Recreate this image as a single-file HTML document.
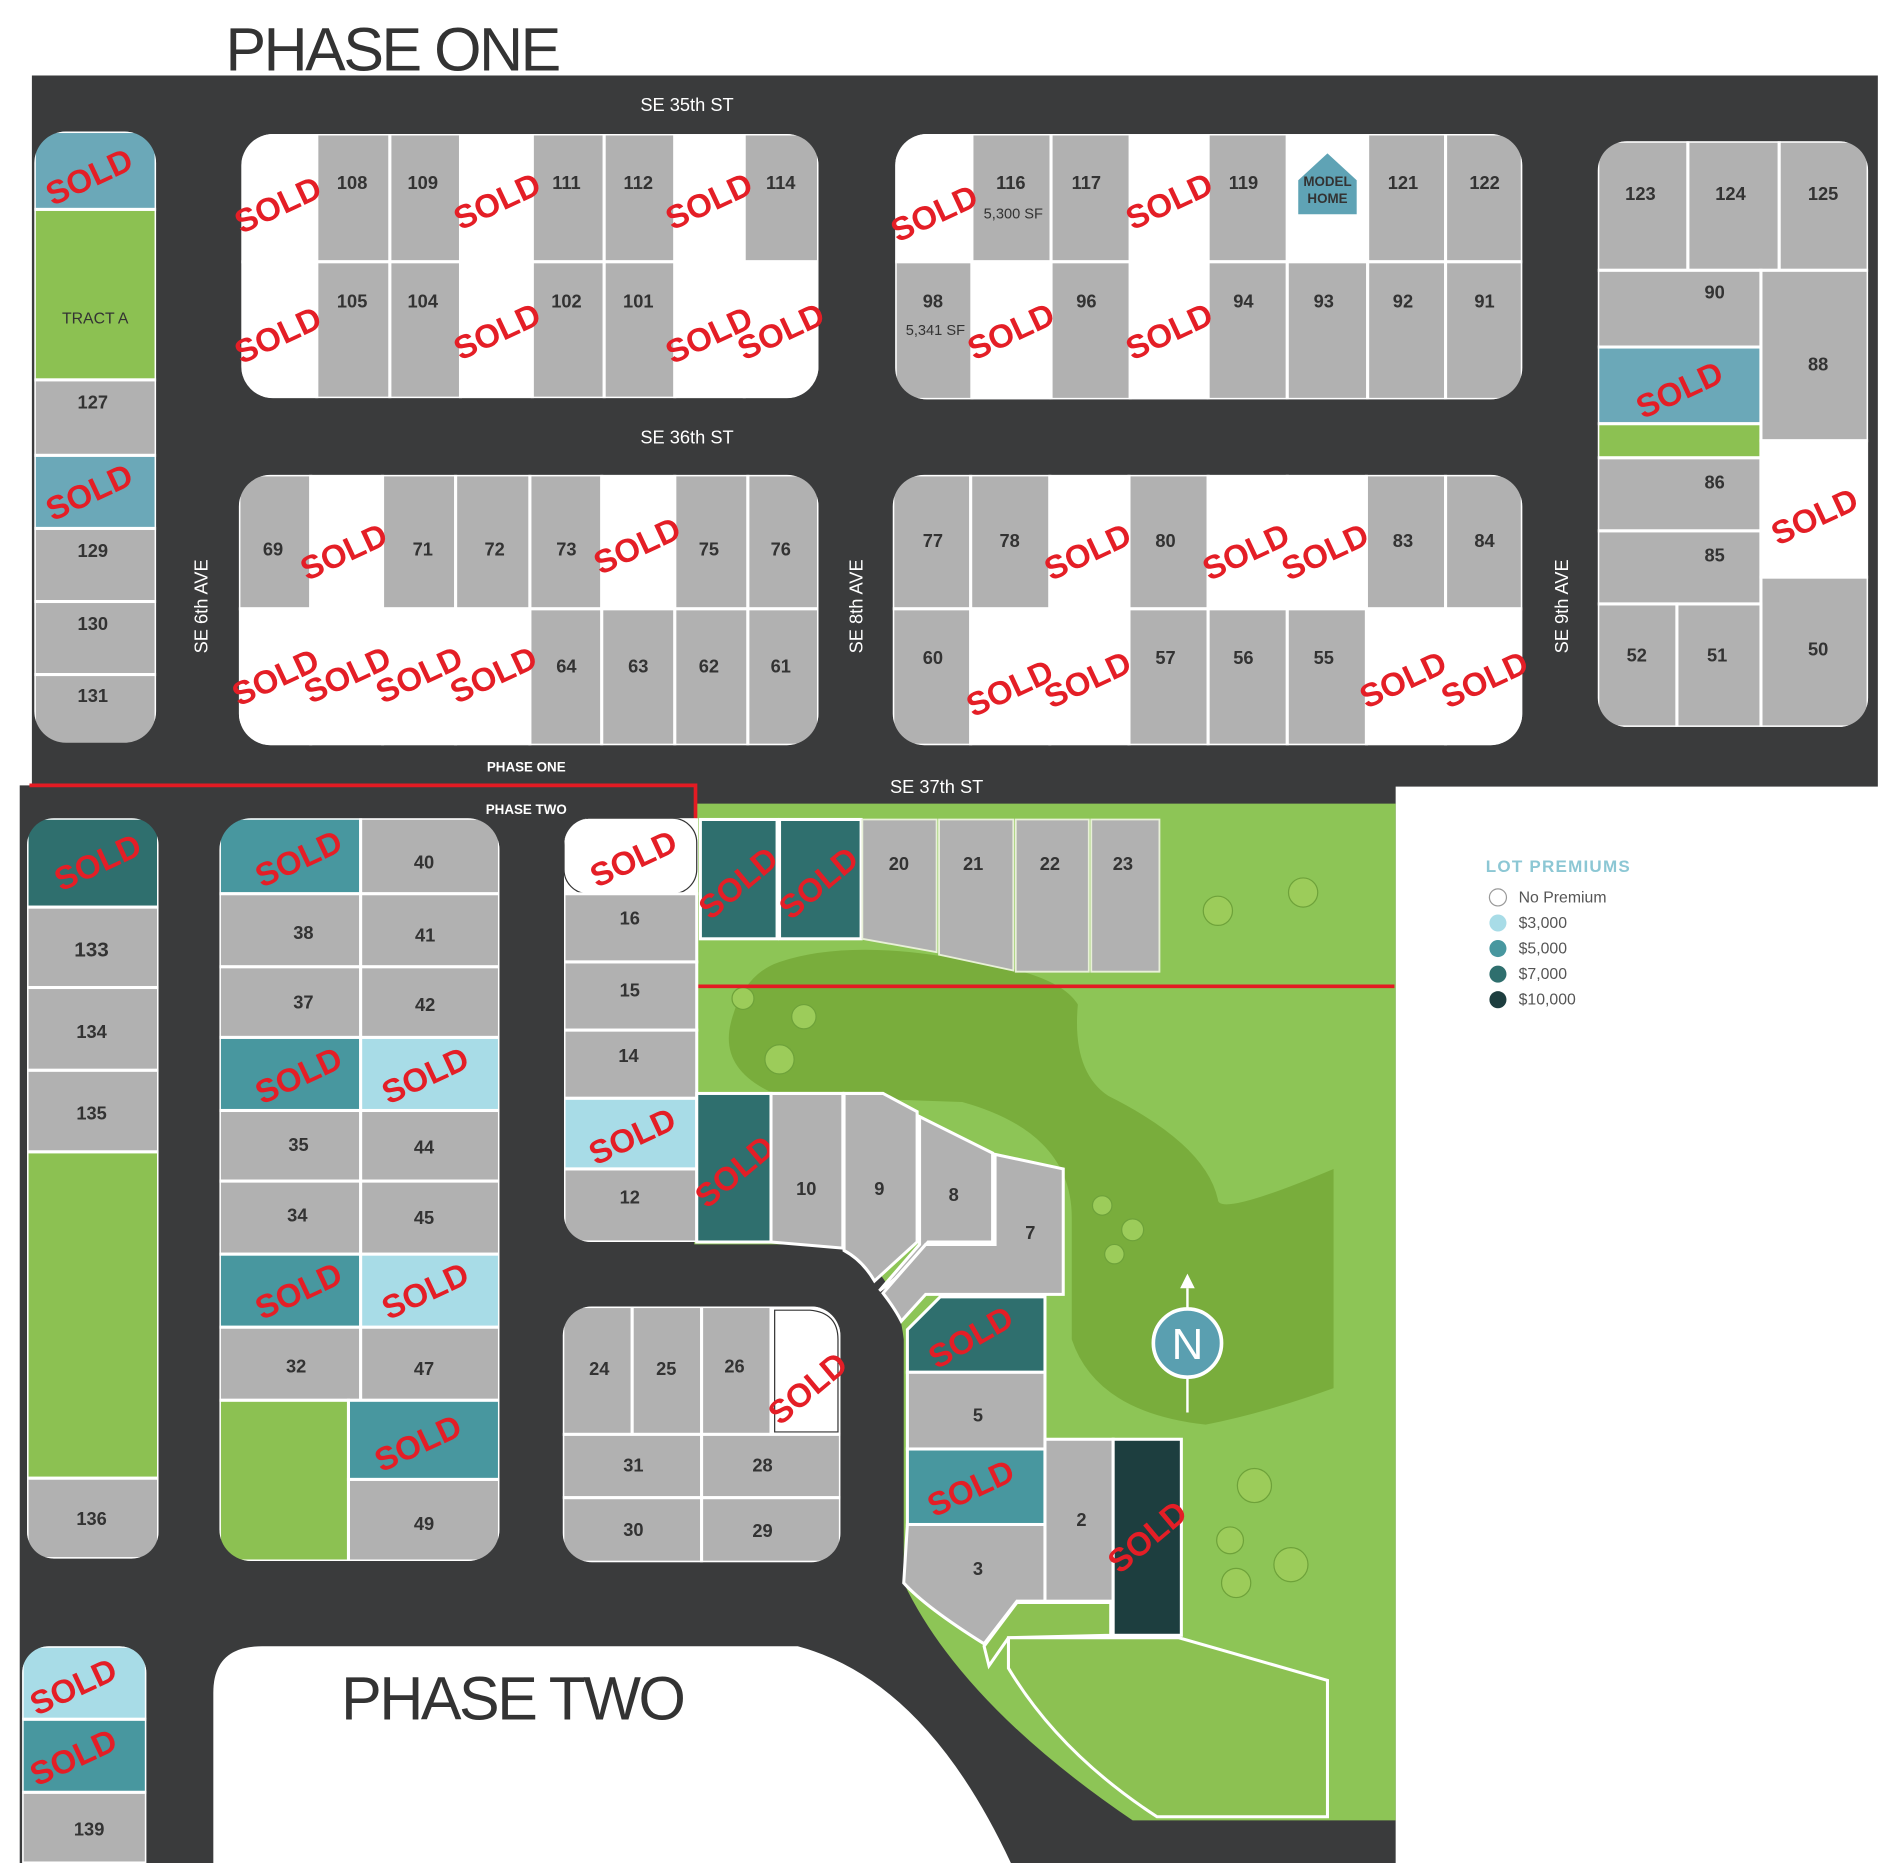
<!DOCTYPE html>
<html><head><meta charset="utf-8">
<style>
html,body{margin:0;padding:0;background:#fff}
svg{display:block}
.g{fill:#b1b1b1;stroke:#fff;stroke-width:2.5}
.w{fill:#fff;stroke:#fff;stroke-width:2.5}
.t3{fill:#a8dce7;stroke:#fff;stroke-width:2.5}
.t5{fill:#48979f;stroke:#fff;stroke-width:2.5}
.t7{fill:#2f6f6e;stroke:#fff;stroke-width:2.5}
.t10{fill:#1d3e3f;stroke:#fff;stroke-width:2.5}
.tb{fill:#6ba8b8;stroke:#fff;stroke-width:2.5}
.gr{fill:#8cc152;stroke:#fff;stroke-width:2.5}
.n{font:700 15px "Liberation Sans",sans-serif;fill:#333;text-anchor:middle;dominant-baseline:central}
.s{font:700 27px "Liberation Sans",sans-serif;fill:#e41e26;text-anchor:middle;dominant-baseline:central}
.st{font:15px "Liberation Sans",sans-serif;fill:#fff;text-anchor:middle;dominant-baseline:central}
.big{font:300 50px "Liberation Sans",sans-serif;fill:#333;letter-spacing:-2px}
.lg{font:13px "Liberation Sans",sans-serif;fill:#555}
</style></head><body>
<svg width="1900" height="1863" viewBox="0 0 1560 1530" xmlns="http://www.w3.org/2000/svg">
<defs>
<clipPath id="cA"><rect x="198" y="110" width="474" height="217" rx="26"/></clipPath>
<clipPath id="cB"><rect x="735" y="110" width="515" height="218" rx="26"/></clipPath>
<clipPath id="cC"><rect x="1312" y="116" width="222" height="481" rx="24"/></clipPath>
<clipPath id="cD"><rect x="196" y="390" width="476" height="222" rx="26"/></clipPath>
<clipPath id="cE"><rect x="733" y="390" width="517" height="222" rx="26"/></clipPath>
<clipPath id="cL"><rect x="28" y="108" width="100" height="502" rx="26"/></clipPath>
<clipPath id="cL2"><rect x="22" y="672" width="108" height="608" rx="22"/></clipPath>
<clipPath id="cF"><rect x="180" y="672" width="230" height="610" rx="26"/></clipPath>
<clipPath id="cG"><rect x="463" y="672" width="200" height="348" rx="22"/></clipPath>
<clipPath id="cH"><rect x="462" y="1073" width="228" height="210" rx="24"/></clipPath>
<clipPath id="cL3"><rect x="18" y="1352" width="102" height="220" rx="22"/></clipPath>
</defs>
<text x="185" y="58" class="big">PHASE ONE</text>
<rect x="26" y="62" width="1516" height="584" fill="#3a3b3c"/>
<rect x="16" y="645" width="1130" height="885" fill="#3a3b3c"/>
<path d="M175,1530 L175,1390 Q175,1352 215,1352 L655,1352 Q760,1380 830,1530 Z" fill="#fff"/>
<path d="M570,660 L1146,660 L1146,1495 L930,1495 Q790,1400 742,1300 L742,1100 Q735,1040 690,1022 L570,1022 Z" fill="#8dc556"/>
<path d="M640,790 Q700,770 800,790 Q870,800 885,825 Q880,880 910,900 Q990,940 1000,985 Q1000,1000 1095,960 L1095,1140 Q1040,1160 990,1170 Q900,1160 880,1100 Q880,1050 880,1000 Q880,930 790,905 L640,900 Q590,880 600,840 Q610,800 640,790 Z" fill="#79ad3c"/>
<g fill="#9ccc5a" stroke="#6ea23a" stroke-width="1">
<circle cx="1000" cy="748" r="12"/><circle cx="1070" cy="733" r="12"/><circle cx="610" cy="820" r="9"/><circle cx="640" cy="870" r="12"/><circle cx="660" cy="835" r="10"/>
<circle cx="905" cy="990" r="8"/><circle cx="930" cy="1010" r="9"/><circle cx="915" cy="1030" r="8"/>
<circle cx="1030" cy="1220" r="14"/><circle cx="1010" cy="1265" r="11"/><circle cx="1060" cy="1285" r="14"/><circle cx="1015" cy="1300" r="12"/>
<circle cx="75" cy="1110" r="12"/><circle cx="55" cy="1140" r="10"/><circle cx="100" cy="1160" r="12"/><circle cx="70" cy="1175" r="11"/>
<circle cx="210" cy="1190" r="11"/><circle cx="255" cy="1225" r="12"/><circle cx="230" cy="1250" r="11"/>
<circle cx="870" cy="1370" r="9"/><circle cx="905" cy="1400" r="10"/><circle cx="985" cy="1445" r="12"/><circle cx="1000" cy="1405" r="11"/><circle cx="1040" cy="1460" r="12"/>
</g>
<text x="564" y="86" class="st">SE 35th ST</text>
<text x="564" y="359" class="st">SE 36th ST</text>
<text x="769" y="646" class="st">SE 37th ST</text>
<text class="st" transform="translate(165 498) rotate(-90)">SE 6th AVE</text>
<text class="st" transform="translate(703 498) rotate(-90)">SE 8th AVE</text>
<text class="st" transform="translate(1282 498) rotate(-90)">SE 9th AVE</text>
<text x="432" y="630" class="st" style="font-size:11px;font-weight:700">PHASE ONE</text>
<text x="432" y="665" class="st" style="font-size:11px;font-weight:700">PHASE TWO</text>

<g clip-path="url(#cL)">
<rect x="28" y="108" width="100" height="64" class="tb"/>
<rect x="28" y="172" width="100" height="140" class="gr"/>
<rect x="28" y="312" width="100" height="62" class="g"/>
<rect x="28" y="374" width="100" height="60" class="tb"/>
<rect x="28" y="434" width="100" height="60" class="g"/>
<rect x="28" y="494" width="100" height="60" class="g"/>
<rect x="28" y="554" width="100" height="58" class="g"/>
</g>
<text x="73" y="145" class="s" transform="rotate(-25 73 145)">SOLD</text>
<text x="78" y="262" class="n" style="font-weight:400;font-size:13px">TRACT A</text>
<text x="76" y="330" class="n">127</text>
<text x="73" y="404" class="s" transform="rotate(-25 73 404)">SOLD</text>
<text x="76" y="452" class="n">129</text>
<text x="76" y="512" class="n">130</text>
<text x="76" y="571" class="n">131</text>

<g clip-path="url(#cA)">
<rect x="198" y="110" width="62" height="105" class="w"/><rect x="260" y="110" width="60" height="105" class="g"/><rect x="320" y="110" width="58" height="105" class="g"/><rect x="378" y="110" width="59" height="105" class="w"/><rect x="437" y="110" width="59" height="105" class="g"/><rect x="496" y="110" width="58" height="105" class="g"/><rect x="554" y="110" width="57" height="105" class="w"/><rect x="611" y="110" width="61" height="105" class="g"/>
<rect x="198" y="215" width="62" height="112" class="w"/><rect x="260" y="215" width="60" height="112" class="g"/><rect x="320" y="215" width="58" height="112" class="g"/><rect x="378" y="215" width="59" height="112" class="w"/><rect x="437" y="215" width="59" height="112" class="g"/><rect x="496" y="215" width="58" height="112" class="g"/><rect x="554" y="215" width="57" height="112" class="w"/><rect x="611" y="215" width="61" height="112" class="w"/>
</g>
<text x="228" y="168" class="s" transform="rotate(-25 228 168)">SOLD</text>
<text x="289" y="150" class="n">108</text><text x="347" y="150" class="n">109</text>
<text x="408" y="165" class="s" transform="rotate(-25 408 165)">SOLD</text>
<text x="465" y="150" class="n">111</text><text x="524" y="150" class="n">112</text>
<text x="582" y="165" class="s" transform="rotate(-25 582 165)">SOLD</text>
<text x="641" y="150" class="n">114</text>
<text x="228" y="275" class="s" transform="rotate(-25 228 275)">SOLD</text>
<text x="289" y="247" class="n">105</text><text x="347" y="247" class="n">104</text>
<text x="408" y="272" class="s" transform="rotate(-25 408 272)">SOLD</text>
<text x="465" y="247" class="n">102</text><text x="524" y="247" class="n">101</text>
<text x="582" y="275" class="s" transform="rotate(-25 582 275)">SOLD</text>
<text x="641" y="272" class="s" transform="rotate(-25 641 272)">SOLD</text>

<g clip-path="url(#cB)">
<rect x="735" y="110" width="63" height="105" class="w"/><rect x="798" y="110" width="65" height="105" class="g"/><rect x="863" y="110" width="65" height="105" class="g"/><rect x="928" y="110" width="64" height="105" class="w"/><rect x="992" y="110" width="65" height="105" class="g"/><rect x="1057" y="110" width="66" height="105" class="w"/><rect x="1123" y="110" width="64" height="105" class="g"/><rect x="1187" y="110" width="63" height="105" class="g"/>
<rect x="735" y="215" width="63" height="113" class="g"/><rect x="798" y="215" width="65" height="113" class="w"/><rect x="863" y="215" width="65" height="113" class="g"/><rect x="928" y="215" width="64" height="113" class="w"/><rect x="992" y="215" width="65" height="113" class="g"/><rect x="1057" y="215" width="66" height="113" class="g"/><rect x="1123" y="215" width="64" height="113" class="g"/><rect x="1187" y="215" width="63" height="113" class="g"/>
</g>
<text x="767" y="175" class="s" transform="rotate(-25 767 175)">SOLD</text>
<text x="830" y="150" class="n">116</text><text x="832" y="176" class="n" style="font-weight:400;font-size:12px">5,300 SF</text>
<text x="892" y="150" class="n">117</text>
<text x="960" y="165" class="s" transform="rotate(-25 960 165)">SOLD</text>
<text x="1021" y="150" class="n">119</text>
<path d="M1066,148 L1090,126 L1114,148 L1114,176 L1066,176 Z" fill="#5fa3b5"/>
<text x="1090" y="149" class="n" style="font-size:11px">MODEL</text><text x="1090" y="163" class="n" style="font-size:11px">HOME</text>
<text x="1152" y="150" class="n">121</text><text x="1219" y="150" class="n">122</text>
<text x="766" y="247" class="n">98</text><text x="768" y="272" class="n" style="font-weight:400;font-size:12px">5,341 SF</text>
<text x="830" y="272" class="s" transform="rotate(-25 830 272)">SOLD</text>
<text x="892" y="247" class="n">96</text>
<text x="960" y="272" class="s" transform="rotate(-25 960 272)">SOLD</text>
<text x="1021" y="247" class="n">94</text><text x="1087" y="247" class="n">93</text><text x="1152" y="247" class="n">92</text><text x="1219" y="247" class="n">91</text>

<g clip-path="url(#cC)">
<rect x="1312" y="116" width="74" height="106" class="g"/><rect x="1386" y="116" width="75" height="106" class="g"/><rect x="1461" y="116" width="73" height="106" class="g"/>
<rect x="1312" y="222" width="134" height="63" class="g"/><rect x="1312" y="285" width="134" height="63" class="tb"/><rect x="1312" y="348" width="134" height="28" class="gr"/><rect x="1312" y="376" width="134" height="60" class="g"/><rect x="1312" y="436" width="134" height="60" class="g"/>
<rect x="1446" y="222" width="88" height="140" class="g"/><rect x="1446" y="362" width="88" height="112" class="w"/><rect x="1446" y="474" width="88" height="123" class="g"/>
<rect x="1312" y="496" width="65" height="101" class="g"/><rect x="1377" y="496" width="69" height="101" class="g"/>
</g>
<text x="1347" y="159" class="n">123</text><text x="1421" y="159" class="n">124</text><text x="1497" y="159" class="n">125</text>
<text x="1408" y="240" class="n">90</text>
<text x="1379" y="320" class="s" transform="rotate(-25 1379 320)">SOLD</text>
<text x="1408" y="396" class="n">86</text><text x="1408" y="456" class="n">85</text>
<text x="1493" y="299" class="n">88</text>
<text x="1490" y="424" class="s" transform="rotate(-25 1490 424)">SOLD</text>
<text x="1493" y="533" class="n">50</text>
<text x="1344" y="538" class="n">52</text><text x="1410" y="538" class="n">51</text>

<g clip-path="url(#cD)">
<rect x="196" y="390" width="59" height="110" class="g"/><rect x="255" y="390" width="59" height="110" class="w"/><rect x="314" y="390" width="60" height="110" class="g"/><rect x="374" y="390" width="61" height="110" class="g"/><rect x="435" y="390" width="59" height="110" class="g"/><rect x="494" y="390" width="60" height="110" class="w"/><rect x="554" y="390" width="60" height="110" class="g"/><rect x="614" y="390" width="58" height="110" class="g"/>
<rect x="196" y="500" width="59" height="112" class="w"/><rect x="255" y="500" width="59" height="112" class="w"/><rect x="314" y="500" width="60" height="112" class="w"/><rect x="374" y="500" width="61" height="112" class="w"/><rect x="435" y="500" width="59" height="112" class="g"/><rect x="494" y="500" width="60" height="112" class="g"/><rect x="554" y="500" width="60" height="112" class="g"/><rect x="614" y="500" width="58" height="112" class="g"/>
</g>
<text x="224" y="451" class="n">69</text>
<text x="282" y="453" class="s" transform="rotate(-25 282 453)">SOLD</text>
<text x="347" y="451" class="n">71</text><text x="406" y="451" class="n">72</text><text x="465" y="451" class="n">73</text>
<text x="523" y="448" class="s" transform="rotate(-25 523 448)">SOLD</text>
<text x="582" y="451" class="n">75</text><text x="641" y="451" class="n">76</text>
<text x="226" y="556" class="s" transform="rotate(-25 226 556)">SOLD</text>
<text x="285" y="554" class="s" transform="rotate(-25 285 554)">SOLD</text>
<text x="344" y="554" class="s" transform="rotate(-25 344 554)">SOLD</text>
<text x="405" y="554" class="s" transform="rotate(-25 405 554)">SOLD</text>
<text x="465" y="547" class="n">64</text><text x="524" y="547" class="n">63</text><text x="582" y="547" class="n">62</text><text x="641" y="547" class="n">61</text>

<g clip-path="url(#cE)">
<rect x="733" y="390" width="64" height="110" class="g"/><rect x="797" y="390" width="65" height="110" class="g"/><rect x="862" y="390" width="65" height="110" class="w"/><rect x="927" y="390" width="65" height="110" class="g"/><rect x="992" y="390" width="65" height="110" class="w"/><rect x="1057" y="390" width="65" height="110" class="w"/><rect x="1122" y="390" width="65" height="110" class="g"/><rect x="1187" y="390" width="63" height="110" class="g"/>
<rect x="733" y="500" width="64" height="112" class="g"/><rect x="797" y="500" width="65" height="112" class="w"/><rect x="862" y="500" width="65" height="112" class="w"/><rect x="927" y="500" width="65" height="112" class="g"/><rect x="992" y="500" width="65" height="112" class="g"/><rect x="1057" y="500" width="65" height="112" class="g"/><rect x="1122" y="500" width="65" height="112" class="w"/><rect x="1187" y="500" width="63" height="112" class="w"/>
</g>
<text x="766" y="444" class="n">77</text><text x="829" y="444" class="n">78</text>
<text x="893" y="453" class="s" transform="rotate(-25 893 453)">SOLD</text>
<text x="957" y="444" class="n">80</text>
<text x="1023" y="453" class="s" transform="rotate(-25 1023 453)">SOLD</text>
<text x="1088" y="453" class="s" transform="rotate(-25 1088 453)">SOLD</text>
<text x="1152" y="444" class="n">83</text><text x="1219" y="444" class="n">84</text>
<text x="766" y="540" class="n">60</text>
<text x="829" y="565" class="s" transform="rotate(-25 829 565)">SOLD</text>
<text x="893" y="558" class="s" transform="rotate(-25 893 558)">SOLD</text>
<text x="957" y="540" class="n">57</text><text x="1021" y="540" class="n">56</text><text x="1087" y="540" class="n">55</text>
<text x="1152" y="558" class="s" transform="rotate(-25 1152 558)">SOLD</text>
<text x="1219" y="558" class="s" transform="rotate(-25 1219 558)">SOLD</text>

<path d="M24,645 L571,645 L571,810 L1145,810" fill="none" stroke="#e31b23" stroke-width="3"/>

<g clip-path="url(#cL2)">
<rect x="22" y="672" width="108" height="73" class="t7"/>
<rect x="22" y="745" width="108" height="66" class="g"/>
<rect x="22" y="811" width="108" height="68" class="g"/>
<rect x="22" y="879" width="108" height="67" class="g"/>
<rect x="22" y="946" width="108" height="268" class="gr"/>
<rect x="22" y="1214" width="108" height="66" class="g"/>
</g>
<text x="80" y="708" class="s" transform="rotate(-25 80 708)">SOLD</text>
<text x="75" y="780" class="n" style="font-size:17px">133</text>
<text x="75" y="847" class="n">134</text>
<text x="75" y="914" class="n">135</text>
<text x="75" y="1247" class="n">136</text>

<g clip-path="url(#cF)">
<rect x="180" y="672" width="116" height="62" class="t5"/><rect x="296" y="672" width="114" height="62" class="g"/>
<rect x="180" y="734" width="116" height="60" class="g"/><rect x="296" y="734" width="114" height="60" class="g"/>
<rect x="180" y="794" width="116" height="58" class="g"/><rect x="296" y="794" width="114" height="58" class="g"/>
<rect x="180" y="852" width="116" height="60" class="t5"/><rect x="296" y="852" width="114" height="60" class="t3"/>
<rect x="180" y="912" width="116" height="58" class="g"/><rect x="296" y="912" width="114" height="58" class="g"/>
<rect x="180" y="970" width="116" height="60" class="g"/><rect x="296" y="970" width="114" height="60" class="g"/>
<rect x="180" y="1030" width="116" height="60" class="t5"/><rect x="296" y="1030" width="114" height="60" class="t3"/>
<rect x="180" y="1090" width="116" height="60" class="g"/><rect x="296" y="1090" width="114" height="60" class="g"/>
<rect x="180" y="1150" width="106" height="132" class="gr"/><rect x="286" y="1150" width="124" height="65" class="t5"/><rect x="286" y="1215" width="124" height="67" class="g"/>
</g>
<text x="245" y="705" class="s" transform="rotate(-25 245 705)">SOLD</text>
<text x="348" y="708" class="n">40</text>
<text x="249" y="766" class="n">38</text><text x="349" y="768" class="n">41</text>
<text x="249" y="823" class="n">37</text><text x="349" y="825" class="n">42</text>
<text x="245" y="883" class="s" transform="rotate(-25 245 883)">SOLD</text>
<text x="349" y="883" class="s" transform="rotate(-25 349 883)">SOLD</text>
<text x="245" y="940" class="n">35</text><text x="348" y="942" class="n">44</text>
<text x="244" y="998" class="n">34</text><text x="348" y="1000" class="n">45</text>
<text x="245" y="1060" class="s" transform="rotate(-25 245 1060)">SOLD</text>
<text x="349" y="1060" class="s" transform="rotate(-25 349 1060)">SOLD</text>
<text x="243" y="1122" class="n">32</text><text x="348" y="1124" class="n">47</text>
<text x="343" y="1185" class="s" transform="rotate(-25 343 1185)">SOLD</text>
<text x="348" y="1251" class="n">49</text>

<g clip-path="url(#cG)">
<rect x="463" y="672" width="109" height="62" class="w"/><rect x="463" y="672" width="109" height="62" rx="20" fill="none" stroke="#333" stroke-width="1"/>
<rect x="463" y="734" width="109" height="56" class="g"/>
<rect x="463" y="790" width="109" height="56" class="g"/>
<rect x="463" y="846" width="109" height="56" class="g"/>
<rect x="463" y="902" width="109" height="58" class="t3"/>
<rect x="463" y="960" width="109" height="60" class="g"/>
</g>
<text x="520" y="705" class="s" transform="rotate(-25 520 705)">SOLD</text>
<text x="517" y="754" class="n">16</text><text x="517" y="813" class="n">15</text><text x="516" y="867" class="n">14</text>
<text x="519" y="933" class="s" transform="rotate(-25 519 933)">SOLD</text>
<text x="517" y="983" class="n">12</text>
<rect x="572" y="898" width="61" height="122" class="t7"/>
<text x="603" y="962" class="s" transform="rotate(-40 603 962)">SOLD</text>
<path d="M633,898 L692,898 L692,1025 L633,1020 Z" class="g"/>
<path d="M693,898 L725,898 L753,913 L753,1020 L718,1052 Q708,1035 693,1027 Z" class="g"/>
<path d="M755,917 L815,947 L815,1020 L762,1020 L735,1050 Q728,1056 722,1060 L755,1022 Z" class="g"/>
<path d="M817,948 L873,960 L873,1063 L760,1063 L740,1085 Q735,1075 725,1062 L760,1022 L817,1022 Z" class="g"/>
<text x="662" y="976" class="n">10</text><text x="722" y="976" class="n">9</text><text x="783" y="981" class="n">8</text><text x="846" y="1012" class="n">7</text>

<rect x="575" y="673" width="63" height="98" class="t7"/>
<rect x="640" y="673" width="67" height="98" class="t7"/>
<text x="606" y="725" class="s" transform="rotate(-40 606 725)">SOLD</text>
<text x="672" y="725" class="s" transform="rotate(-40 672 725)">SOLD</text>
<path d="M708,673 L769,673 L769,782 L708,771 Z" fill="#b1b1b1" stroke="#e8f0d8" stroke-width="1.5"/>
<path d="M771,673 L832,673 L832,797 L771,784 Z" fill="#b1b1b1" stroke="#e8f0d8" stroke-width="1.5"/>
<path d="M834,673 L894,673 L894,798 L834,798 Z" fill="#b1b1b1" stroke="#e8f0d8" stroke-width="1.5"/>
<path d="M896,673 L952,673 L952,798 L896,798 Z" fill="#b1b1b1" stroke="#e8f0d8" stroke-width="1.5"/>
<text x="738" y="709" class="n">20</text><text x="799" y="709" class="n">21</text><text x="862" y="709" class="n">22</text><text x="922" y="709" class="n">23</text>

<g clip-path="url(#cH)">
<rect x="462" y="1073" width="57" height="105" class="g"/><rect x="519" y="1073" width="57" height="105" class="g"/><rect x="576" y="1073" width="57" height="105" class="g"/><rect x="633" y="1073" width="57" height="105" class="w"/>
<rect x="462" y="1178" width="114" height="52" class="g"/><rect x="576" y="1178" width="114" height="52" class="g"/>
<rect x="462" y="1230" width="114" height="53" class="g"/><rect x="576" y="1230" width="114" height="53" class="g"/>
</g>
<path d="M636,1176 L636,1076 L665,1076 Q688,1078 688,1100 L688,1176 Z" fill="none" stroke="#333" stroke-width="1"/>
<text x="492" y="1124" class="n">24</text><text x="547" y="1124" class="n">25</text><text x="603" y="1122" class="n">26</text>
<text x="663" y="1140" class="s" transform="rotate(-40 663 1140)">SOLD</text>
<text x="520" y="1203" class="n">31</text><text x="626" y="1203" class="n">28</text>
<text x="520" y="1256" class="n">30</text><text x="626" y="1257" class="n">29</text>

<path d="M772,1065 L858,1065 L858,1127 L745,1127 L745,1092 Z" class="t7"/>
<text x="797" y="1098" class="s" transform="rotate(-30 797 1098)">SOLD</text>
<rect x="745" y="1127" width="113" height="63" class="g"/><text x="803" y="1162" class="n">5</text>
<rect x="745" y="1190" width="113" height="62" class="t5"/>
<text x="797" y="1222" class="s" transform="rotate(-25 797 1222)">SOLD</text>
<path d="M745,1252 L858,1252 L858,1315 L835,1315 L808,1350 Q760,1320 742,1300 Z" class="g"/>
<text x="803" y="1288" class="n">3</text>
<rect x="858" y="1182" width="56" height="133" class="g"/><text x="888" y="1248" class="n">2</text>
<rect x="914" y="1182" width="56" height="161" class="t10"/>
<text x="942" y="1262" class="s" transform="rotate(-40 942 1262)">SOLD</text>
<path d="M835,1316 L912,1316 L912,1343 L828,1345 L812,1368 L808,1352 Z" class="gr"/>
<path d="M828,1345 L968,1345 L1090,1380 L1090,1492 L950,1492 Q870,1440 828,1370 Z" class="gr"/>

<g clip-path="url(#cL3)">
<rect x="18" y="1352" width="102" height="60" class="t3"/>
<rect x="18" y="1412" width="102" height="60" class="t5"/>
<rect x="18" y="1472" width="102" height="58" class="g"/>
</g>
<text x="60" y="1385" class="s" transform="rotate(-25 60 1385)">SOLD</text>
<text x="60" y="1443" class="s" transform="rotate(-25 60 1443)">SOLD</text>
<text x="73" y="1502" class="n">139</text>

<text x="280" y="1412" class="big">PHASE TWO</text>

<line x1="975" y1="1058" x2="975" y2="1160" stroke="#fff" stroke-width="2"/>
<path d="M969,1058 L975,1046 L981,1058 Z" fill="#fff"/>
<circle cx="975" cy="1103" r="28" fill="#5a9fb0" stroke="#fff" stroke-width="3"/>
<text x="975" y="1104" class="n" style="fill:#fff;font-size:36px;font-weight:400">N</text>

<text x="1220" y="716" style="font:700 14px 'Liberation Sans',sans-serif;fill:#8cc7d4;letter-spacing:1px">LOT PREMIUMS</text>
<circle cx="1230" cy="737" r="7" fill="#fff" stroke="#999"/><text x="1247" y="741" class="lg">No Premium</text>
<circle cx="1230" cy="758" r="7" fill="#a8dce7"/><text x="1247" y="762" class="lg">$3,000</text>
<circle cx="1230" cy="779" r="7" fill="#48979f"/><text x="1247" y="783" class="lg">$5,000</text>
<circle cx="1230" cy="800" r="7" fill="#2f6f6e"/><text x="1247" y="804" class="lg">$7,000</text>
<circle cx="1230" cy="821" r="7" fill="#1d3e3f"/><text x="1247" y="825" class="lg">$10,000</text>
</svg>
</body></html>
